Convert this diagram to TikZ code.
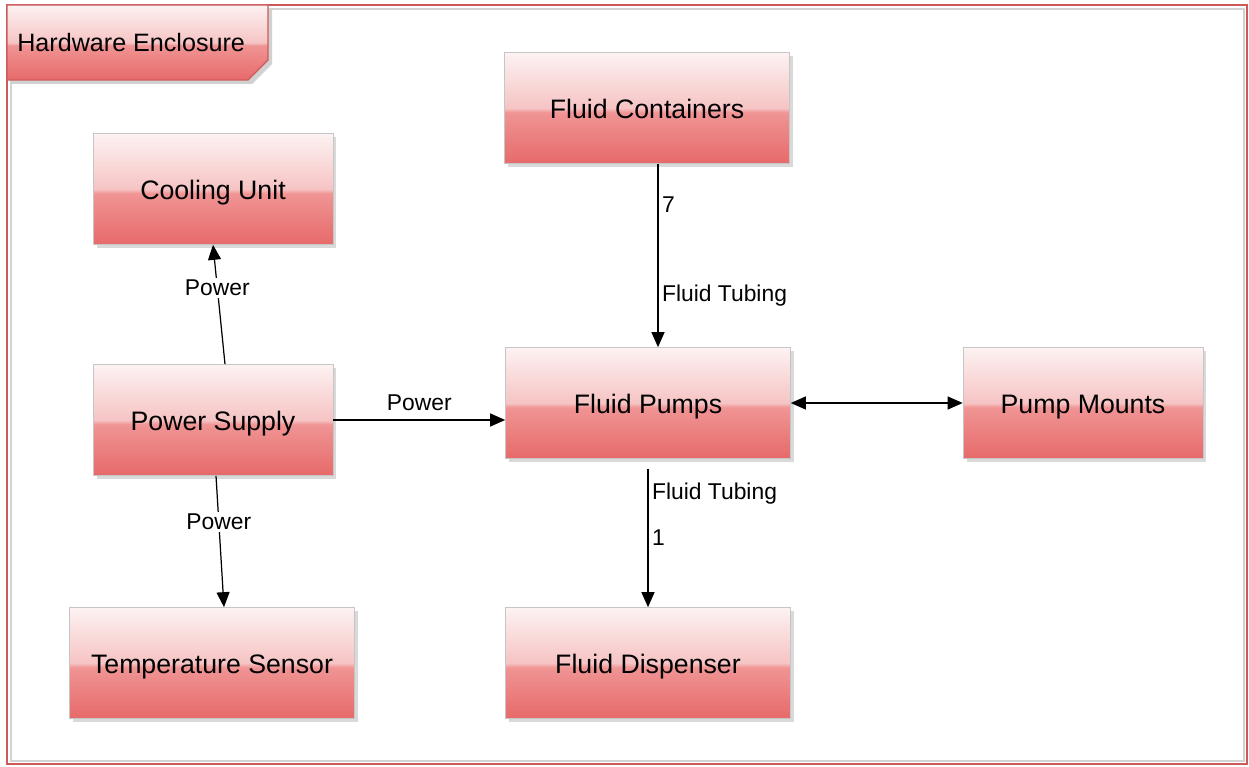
\documentclass[tikz,border=0pt]{standalone}
\usepackage{fontspec}
\setmainfont{Liberation Sans}
\usetikzlibrary{arrows.meta,shadows}

\definecolor{boxtop}{RGB}{253,242,242}
\definecolor{boxhi}{RGB}{246,196,196}
\definecolor{boxlo}{RGB}{240,148,148}
\definecolor{boxbot}{RGB}{231,106,106}
\definecolor{frameRed}{RGB}{205,90,90}
\pgfdeclareverticalshading{glossred}{100bp}{color(0bp)=(boxbot); color(25bp)=(boxbot); color(48bp)=(boxlo); color(50bp)=(boxhi); color(75bp)=(boxtop); color(100bp)=(boxtop)}

\begin{document}
\begin{tikzpicture}[
    x=0.02cm, y=-0.02cm,
    box/.style={rectangle, draw=gray!45, shading=glossred, minimum width=4.8cm, minimum height=2.22cm, font=\fontsize{15.2}{18}\selectfont, text centered, text height=12.3pt, text depth=0pt, drop shadow={shadow xshift=0.07cm, shadow yshift=-0.07cm, fill=black!25, opacity=0.6}},
    lbl/.style={font=\fontsize{13}{15}\selectfont, fill=white, inner sep=1pt},
    tag/.style={font=\fontsize{13}{15}\selectfont, inner sep=2pt},
    arrow/.style={-{Triangle[length=0.3cm,width=0.26cm]}, line width=0.7pt}
]
\useasboundingbox (0,0) rectangle (1249,767);

% Enclosure frame and title tab
\draw[gray!35, line width=1pt] (11,9) rectangle (1244,761);
\draw[frameRed, line width=0.8pt] (7,5) rectangle (1247,764);
\fill[black!18] (11,9) -- (272,9) -- (272,64) -- (252,84) -- (11,84) -- cycle;
\shade[shading=glossred, draw=frameRed, line width=0.8pt] (7,5) -- (268,5) -- (268,60) -- (248,80) -- (7,80) -- cycle;
\node[anchor=west, font=\fontsize{14.3}{17}\selectfont, inner sep=0pt] (title) at (17,43) {Hardware Enclosure};

% Components
\node[box, minimum width=5.7cm] (containers) at (647,108) {Fluid Containers};
\node[box] (cooling) at (213,189) {Cooling Unit};
\node[box] (psu) at (213,420) {Power Supply};
\node[box, minimum width=5.7cm] (pumps) at (648,403) {Fluid Pumps};
\node[box] (mounts) at (1083,403) {Pump Mounts};
\node[box, minimum width=5.7cm] (tsensor) at (212,663) {Temperature Sensor};
\node[box, minimum width=5.7cm] (dispenser) at (648,663) {Fluid Dispenser};

% Power lines
\draw[arrow] ([xshift=0.24cm]psu.north) -- node[lbl, pos=0.64] {Power} (cooling.south);
\draw[arrow] ([xshift=0.06cm]psu.south) -- node[lbl, pos=0.35] {Power} ([xshift=0.24cm]tsensor.north);
\draw[arrow] (psu.east) -- node[tag, above=3pt] {Power} (psu.east -| pumps.west);

% Fluid lines
\draw[arrow] ([xshift=0.22cm]containers.south) -- node[tag, right, pos=0.22] {7} node[tag, right, pos=0.72] {Fluid Tubing} ([xshift=0.2cm]pumps.north);
\draw[arrow] ([yshift=-0.2cm]pumps.south) -- node[tag, right, pos=0.18] {Fluid Tubing} node[tag, right, pos=0.5] {1} (dispenser.north);
\draw[{Triangle[length=0.3cm,width=0.26cm]}-{Triangle[length=0.3cm,width=0.26cm]}, line width=0.7pt] (pumps.east) -- (mounts.west);
\end{tikzpicture}
\end{document}
